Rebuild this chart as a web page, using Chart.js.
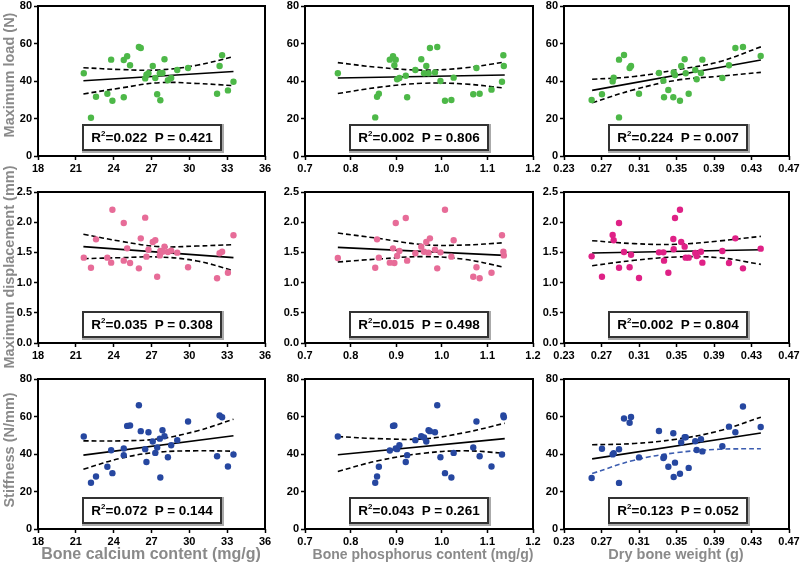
<!DOCTYPE html>
<html>
<head>
<meta charset="utf-8">
<script src="https://cdn.jsdelivr.net/npm/chart.js@4.4.0/dist/chart.umd.min.js"></script>
<style>
  body { margin: 0; width: 800px; height: 565px; background: #fff; position: relative; overflow: hidden;
         font-family: "Liberation Sans", Arial, sans-serif; }
  canvas { position: absolute; }
  .ytitle { position: absolute; transform: translate(-50%, -50%) rotate(-90deg); color: #8a8a8a;
            font-weight: bold; font-size: 14.5px; white-space: nowrap; }
  .xtitle { position: absolute; transform: translate(-50%, -50%); color: #8a8a8a;
            font-weight: bold; white-space: nowrap; }
  .stat { position: absolute; box-sizing: border-box; border: 2px solid #333; box-shadow: 1px 1px 0 1px #aaa;
          background: #fff; font-weight: bold; font-size: 13.5px; white-space: pre;
          display: flex; align-items: center; justify-content: center; }
  .stat sup { font-size: 8px; vertical-align: 6px; line-height: 0; }
</style>
</head>
<body>
<script>
// x values per column (same animals in every row)
const calcium = [21.63, 22.2, 22.6, 23.5, 23.8, 23.9, 24.8, 24.8, 25.07, 25.3, 26.0, 26.15, 26.5, 26.6, 26.76, 27.1,
                 27.3, 27.45, 27.66, 27.7, 27.87, 28.03, 28.3, 28.56, 29.04, 29.9, 32.2, 32.4, 32.6, 33.06, 33.5];
const phosphorus = [0.772, 0.854, 0.858, 0.862, 0.886, 0.893, 0.896, 0.899, 0.902, 0.907, 0.921, 0.924, 0.942, 0.955, 0.961, 0.966,
                    0.971, 0.974, 0.985, 0.99, 0.997, 1.007, 1.021, 1.026, 1.069, 1.076, 1.083, 1.109, 1.132, 1.135, 1.136];
const boneWeight = [0.2595, 0.2705, 0.2819, 0.283, 0.2887, 0.2887, 0.294, 0.3, 0.3015, 0.31, 0.3313, 0.336, 0.3367, 0.3413, 0.3466, 0.347,
                    0.3484, 0.3537, 0.355, 0.3587, 0.3598, 0.363, 0.37, 0.3715, 0.3761, 0.3776, 0.3989, 0.406, 0.4128, 0.4209, 0.4398];

// y values per panel
const loadCa = [44.1, 20.4, 31.6, 33.2, 51.4, 29.5, 51.2, 31.3, 53.2, 48.4, 58.1, 57.6, 41.4, 43.4, 44.1, 48,
                41.6, 32.9, 44.1, 29.7, 44.3, 51.6, 40.4, 41.6, 45.9, 46.9, 33.2, 48, 53.7, 35, 39.6];
const loadP = [44.1, 20.6, 31.6, 33.2, 51.4, 53.2, 48.4, 51.4, 40.9, 41.6, 42.8, 31.3, 45.9, 51.6, 44.1, 48,
               44.1, 57.6, 44.6, 58.1, 40, 29.5, 29.9, 41.8, 32.9, 46.9, 33.2, 35.4, 39.6, 53.7, 48];
const loadW = [29.9, 32.9, 39.8, 41.8, 51.4, 20.6, 53.9, 46.9, 48, 33.2, 44.3, 40.2, 31.3, 35.2, 31.3, 44.6,
               43.2, 29.5, 48, 51.6, 44.1, 33.2, 45.9, 40.9, 44.3, 51.4, 41.6, 48.4, 57.6, 58.1, 53.3];
const dispCa = [1.413, 1.247, 1.716, 1.413, 1.33, 2.207, 1.363, 1.987, 1.567, 1.325, 1.236, 1.733, 2.075, 1.43, 1.545, 1.672,
                1.7, 1.098, 1.45, 1.523, 1.512, 1.595, 1.507, 1.529, 1.496, 1.253, 1.071, 1.485, 1.512, 1.164, 1.783];
const dispP = [1.407, 1.247, 1.716, 1.413, 1.33, 1.567, 1.325, 1.987, 1.44, 1.523, 2.07, 1.363, 1.485, 1.595, 1.512, 1.672,
               1.496, 1.733, 1.545, 1.236, 1.501, 2.207, 1.43, 1.7, 1.098, 1.253, 1.071, 1.164, 1.783, 1.512, 1.45];
const dispW = [1.435, 1.098, 1.788, 1.7, 1.247, 1.987, 1.507, 1.253, 1.462, 1.076, 1.501, 1.501, 1.363, 1.164, 1.722, 1.551,
               2.07, 2.207, 1.672, 1.595, 1.413, 1.413, 1.49, 1.44, 1.512, 1.33, 1.523, 1.325, 1.733, 1.236, 1.562];
const stiffCa = [49.3, 24.7, 28, 33.2, 42, 29.8, 42.9, 39.4, 55, 55.2, 66, 52.2, 42.6, 35.7, 51.6, 46.7,
                 40.6, 43.5, 48.2, 27.5, 52.7, 49.5, 38.3, 44.7, 47.4, 57.3, 38.8, 60.5, 59.6, 33.3, 39.7];
const stiffP = [49.3, 24.7, 28, 33.2, 41.9, 55, 55.2, 42.9, 42.6, 44.7, 35.7, 39.4, 47.4, 49.5, 48.8, 46.7,
                52.7, 52.2, 51.6, 66, 38.3, 29.8, 27.5, 40.6, 43.5, 57.3, 38.8, 33.3, 39.7, 60.5, 59.6];
const stiffW = [27.2, 42.8, 39.8, 40.4, 42.5, 24.6, 58.9, 56.7, 59.8, 38.2, 52.3, 37.9, 38.6, 33.2, 51.1, 27.7,
                35.4, 29.5, 46.1, 48.9, 48.9, 32.6, 46.8, 42.1, 47.9, 41.4, 44.2, 54.6, 51.6, 65.3, 54.4];

// fitted line (ends) and 95% band at 5 x positions per column
const caFitX = [21.6, 24.6, 27.6, 30.6, 33.5];
const pFitX = [0.772, 0.86, 0.96, 1.05, 1.138];
const wFitX = [0.26, 0.305, 0.35, 0.395, 0.44];

const loadCaFit = [40.1, 45.1], loadCaUp = [47.1, 46.1, 45.9, 48.4, 53], loadCaLo = [33.1, 36.3, 39.1, 38.7, 37.5];
const loadPFit = [41.6, 43.2], loadPUp = [49.8, 47.3, 45.8, 47.0, 50.1], loadPLo = [33.3, 36.6, 38.8, 38.4, 36.2];
const loadWFit = [35, 51.2], loadWUp = [40.9, 42.4, 46, 50.2, 58.2], loadWLo = [28.4, 35.4, 40.4, 42.5, 44.6];
const dispCaFit = [1.595, 1.413], dispCaUp = [1.8, 1.683, 1.595, 1.606, 1.628], dispCaLo = [1.396, 1.413, 1.424, 1.358, 1.198];
const dispPFit = [1.584, 1.451], dispPUp = [1.821, 1.733, 1.628, 1.622, 1.661], dispPLo = [1.341, 1.39, 1.43, 1.385, 1.253];
const dispWFit = [1.49, 1.545], dispWUp = [1.694, 1.645, 1.634, 1.689, 1.766], dispWLo = [1.28, 1.369, 1.424, 1.413, 1.302];
const stiffCaFit = [39.4, 49.7], stiffCaUp = [47, 47, 48.1, 52.3, 58.5], stiffCaLo = [31.9, 37.8, 41, 41.7, 41.5];
const stiffPFit = [39.6, 48.2], stiffPUp = [49.3, 48.2, 48.1, 51.4, 56.4], stiffPLo = [30.7, 36.4, 40.4, 41.7, 40.4];
const stiffWFit = [37.4, 51.2], stiffWUp = [44.9, 45.6, 47.9, 52.3, 59.6], stiffWLo = [29.6, 36.7, 40.7, 42.5, 42.8];

const rSquared = ["0.022", "0.002", "0.224", "0.035", "0.015", "0.002", "0.072", "0.043", "0.123"];
const pValues = ["0.421", "0.806", "0.007", "0.308", "0.498", "0.804", "0.144", "0.261", "0.052"];

// tick labels
const caTicks = [18, 21, 24, 27, 30, 33, 36];
const pTicks = [0.7, 0.8, 0.9, 1.0, 1.1, 1.2];
const wTicks = [0.23, 0.27, 0.31, 0.35, 0.39, 0.43, 0.47];
const loadTicks = [0, 20, 40, 60, 80];
const dispTicks = [0, 0.5, 1.0, 1.5, 2.0, 2.5];
const stiffTicks = [0, 20, 40, 60, 80];

const rowTitles = ["Maximum load (N)", "Maximum displacement (mm)", "Stiffness (N/mm)"];
const colTitles = ["Bone calcium content (mg/g)", "Bone phosphorus content (mg/g)", "Dry bone weight  (g)"];

// layout
const colLeft = [38, 305, 564], colRight = [265, 533, 789];
const rowTop = [6, 192, 379], rowBottom = [156, 343, 529];
const yAxisW = 34, xAxisH = 22, padTop = 10, padRight = 16;
const fontTick = { family: "'Liberation Sans', Arial, sans-serif", size: 11, weight: "bold" };

const green = "#4DB848", pink = "#E76C98", magenta = "#DF2186", blue = "#2647A0";

const cols = [
    { x: calcium, ticks: caTicks, fx: caFitX, dec: 0 },
    { x: phosphorus, ticks: pTicks, fx: pFitX, dec: 1 },
    { x: boneWeight, ticks: wTicks, fx: wFitX, dec: 2 }
];
const rows = [
    { ticks: loadTicks, dec: 0, y: [loadCa, loadP, loadW], fit: [loadCaFit, loadPFit, loadWFit],
      up: [loadCaUp, loadPUp, loadWUp], lo: [loadCaLo, loadPLo, loadWLo], color: [green, green, green] },
    { ticks: dispTicks, dec: 1, y: [dispCa, dispP, dispW], fit: [dispCaFit, dispPFit, dispWFit],
      up: [dispCaUp, dispPUp, dispWUp], lo: [dispCaLo, dispPLo, dispWLo], color: [pink, pink, magenta] },
    { ticks: stiffTicks, dec: 0, y: [stiffCa, stiffP, stiffW], fit: [stiffCaFit, stiffPFit, stiffWFit],
      up: [stiffCaUp, stiffPUp, stiffWUp], lo: [stiffCaLo, stiffPLo, stiffWLo], color: [blue, blue, blue] }
];

const frame = {
    id: "frame",
    beforeDatasetsDraw(chart) {
        const a = chart.chartArea, c = chart.ctx;
        c.save();
        c.strokeStyle = "#000";
        c.lineWidth = 2;
        c.strokeRect(a.left, a.top, a.right - a.left, a.bottom - a.top);
        c.restore();
    }
};

function axis(ticks, dec, fitSize) {
    return {
        type: "linear",
        min: ticks[0],
        max: ticks[ticks.length - 1],
        afterBuildTicks: s => { s.ticks = ticks.map(v => ({ value: v })); },
        afterFit: fitSize,
        ticks: { callback: v => Number(v).toFixed(dec), font: fontTick, color: "#000", padding: 2,
                 maxRotation: 0, autoSkip: false },
        grid: { drawOnChartArea: false, drawTicks: true, tickLength: 4, tickColor: "#000", tickWidth: 1.5 },
        border: { display: false }
    };
}

for (let r = 0; r < 3; r ++) {
    for (let c = 0; c < 3; c ++) {
        const col = cols[c], row = rows[r];
        const ys = row.y[c];
        const pts = col.x.map((v, i) => ({ x: v, y: ys[i] }));
        const fx = col.fx;
        const fitPts = [{ x: fx[0], y: row.fit[c][0] }, { x: fx[fx.length - 1], y: row.fit[c][1] }];
        const upPts = fx.map((v, i) => ({ x: v, y: row.up[c][i] }));
        const loPts = fx.map((v, i) => ({ x: v, y: row.lo[c][i] }));
        const loColor = (r === 2 && c === 2) ? "#3C5DB0" : "#000";

        const cv = document.createElement("canvas");
        const w = yAxisW + (colRight[c] - colLeft[c]) + padRight;
        const h = padTop + (rowBottom[r] - rowTop[r]) + xAxisH;
        cv.width = w;
        cv.height = h;
        cv.style.left = (colLeft[c] - yAxisW) + "px";
        cv.style.top = (rowTop[r] - padTop) + "px";
        document.body.appendChild(cv);

        new Chart(cv, {
            type: "scatter",
            data: {
                datasets: [
                    { data: pts, backgroundColor: row.color[c], borderWidth: 0, pointRadius: 3.2, pointHoverRadius: 3.2 },
                    { type: "line", data: fitPts, borderColor: "#000", borderWidth: 1.6, pointRadius: 0, fill: false },
                    { type: "line", data: upPts, borderColor: "#000", borderWidth: 1.6, borderDash: [5, 3],
                      pointRadius: 0, fill: false, tension: 0.4 },
                    { type: "line", data: loPts, borderColor: loColor, borderWidth: 1.6, borderDash: [5, 3],
                      pointRadius: 0, fill: false, tension: 0.4 }
                ]
            },
            options: {
                responsive: false,
                animation: false,
                events: [],
                layout: { padding: { top: padTop, right: padRight, left: 0, bottom: 0 } },
                plugins: { legend: { display: false }, tooltip: { enabled: false } },
                scales: {
                    x: axis(col.ticks, col.dec, s => { s.height = xAxisH; }),
                    y: axis(row.ticks, row.dec, s => { s.width = yAxisW; })
                }
            },
            plugins: [frame]
        });

        // statistics box
        const box = document.createElement("div");
        box.className = "stat";
        box.style.left = (colLeft[c] + 44) + "px";
        box.style.top = (rowBottom[r] - 32) + "px";
        box.style.width = "140px";
        box.style.height = "27px";
        box.innerHTML = "<span>R<sup>2</sup>=" + rSquared[r * 3 + c] + "  P = " + pValues[r * 3 + c] + "</span>";
        document.body.appendChild(box);
    }
}

// axis titles
const rowTitleY = [75, 267, 450];
for (let r = 0; r < 3; r ++) {
    const d = document.createElement("div");
    d.className = "ytitle";
    d.textContent = rowTitles[r];
    d.style.left = "9px";
    d.style.top = rowTitleY[r] + "px";
    document.body.appendChild(d);
}
const colTitleX = [151, 423, 676];
const colTitleSize = [16, 14, 14.5];
for (let c = 0; c < 3; c ++) {
    const d = document.createElement("div");
    d.className = "xtitle";
    d.textContent = colTitles[c];
    d.style.left = colTitleX[c] + "px";
    d.style.top = "554px";
    d.style.fontSize = colTitleSize[c] + "px";
    document.body.appendChild(d);
}
</script>
</body>
</html>
